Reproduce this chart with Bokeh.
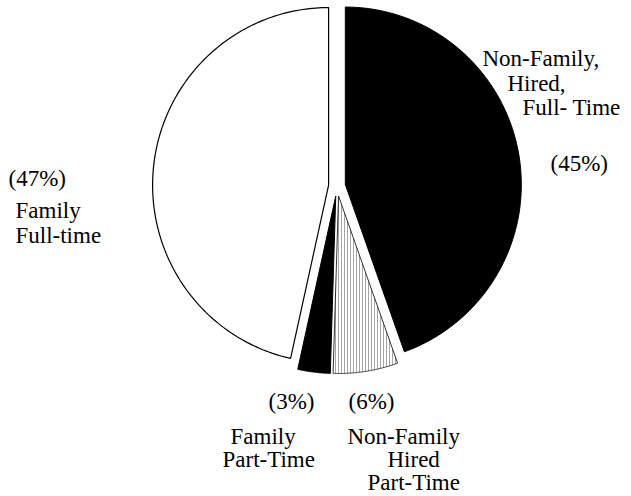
import numpy as np
from bokeh.plotting import figure
from bokeh.models import Range1d
from bokeh.core.properties import value
from bokeh.embed import file_html
from bokeh.resources import INLINE

# ---- data ----
categories = ["Non-Family Hired Full-Time", "Non-Family Hired Part-Time",
              "Family Part-Time", "Family Full-time"]
shares = [45, 6, 3, 47]
label_lines = [["Non-Family,", "Hired,", "Full- Time"],
               ["Non-Family", "Hired", "Part-Time"],
               ["Family", "Part-Time"],
               ["Family", "Full-time"]]

# ---- layout / style ----
W, H = 631, 496
CX, CY = 336.5, 185.5      # pie centre in page pixels
RX, RY = 176.0, 177.5      # pixels per unit radius
explode = [0.048, 0.057, 0.057, 0.048]
fills = ["black", "white", "black", "white"]
hatched = [False, True, False, False]
# (page x, baseline y) of each label line, then of the percentage
line_pos = [[(482, 58), (507, 83), (522, 107)],
            [(347, 436), (387, 459), (367, 482)],
            [(230, 436), (222, 459)],
            [(15, 210), (15, 235)]]
pct_pos = [(550, 163), (348, 401), (268, 401), (8, 178)]


def px(x, y):
    return (x - CX) / RX, (CY - y) / RY


p = figure(width=W, height=H, output_backend="svg", toolbar_location=None,
           x_range=Range1d((0 - CX) / RX, (W - CX) / RX),
           y_range=Range1d((CY - H) / RY, (CY - 0) / RY),
           min_border=0)
p.axis.visible = False
p.grid.visible = False
p.outline_line_color = None
p.background_fill_color = "white"
p.border_fill_color = "white"

total = float(sum(shares))
start = 0.0
for i, s in enumerate(shares):
    a0 = start
    a1 = start + s / total * 2 * np.pi
    start = a1
    mid = 0.5 * (a0 + a1)
    cx = explode[i] * np.sin(mid)
    cy = explode[i] * np.cos(mid)
    th = np.linspace(a0, a1, 160)
    xs = np.concatenate([[cx], cx + np.sin(th)])
    ys = np.concatenate([[cy], cy + np.cos(th)])
    if hatched[i]:
        p.patch(xs, ys, fill_color="white", line_color="black", line_width=0.8,
                hatch_pattern="vertical_line", hatch_color="#707070",
                hatch_scale=3, hatch_weight=0.7, hatch_alpha=0.9)
    elif fills[i] == "black":
        p.patch(xs, ys, fill_color="black", line_color="black", line_width=1)
    else:
        p.patch(xs, ys, fill_color="white", line_color="black", line_width=1.2)

font = value("Liberation Serif")
tx, ty, tt = [], [], []
for i, lines in enumerate(label_lines):
    for (x, y), t in zip(line_pos[i], lines):
        dx, dy = px(x, y)
        tx.append(dx); ty.append(dy); tt.append(t)
    dx, dy = px(*pct_pos[i])
    tx.append(dx); ty.append(dy); tt.append("(%d%%)" % shares[i])

p.text(x=tx, y=ty, text=tt, text_font=font, text_font_size="23px",
       text_color="black", text_align="left", text_baseline="alphabetic")

open("out.html", "w").write(file_html(p, INLINE))
